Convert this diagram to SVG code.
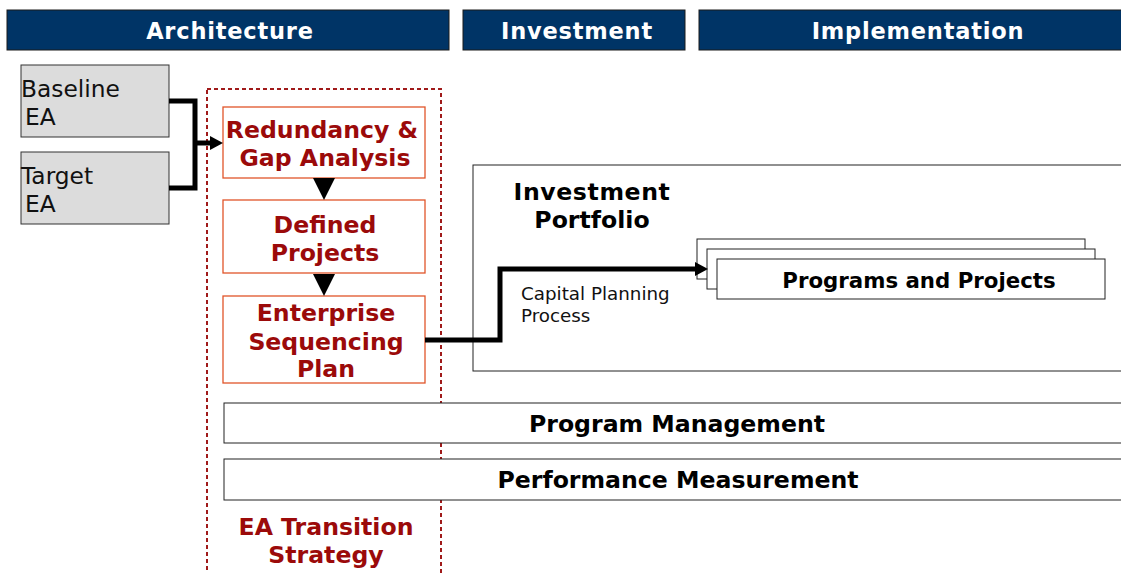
<svg xmlns="http://www.w3.org/2000/svg" width="1121" height="573" viewBox="0 0 1121 573">
  <defs>
    <style>
      .bar { fill: #003466; stroke: #1a1a1a; stroke-width: 1; }
      .bar-t { font-family: "DejaVu Sans", Verdana, sans-serif; font-weight: bold; font-size: 22.5px; fill: #ffffff; text-anchor: middle; letter-spacing: 0.8px; }
      .ea { fill: #dcdcdc; stroke: #333333; stroke-width: 1; }
      .ea-t { font-family: "DejaVu Sans", Verdana, sans-serif; font-size: 23.3px; fill: #111111; }
      .step { fill: #ffffff; stroke: #e0552a; stroke-width: 1.3; }
      .step-t { font-family: "DejaVu Sans", Verdana, sans-serif; font-weight: bold; font-size: 23.6px; fill: #9b0a0a; text-anchor: middle; }
      .frame { fill: none; stroke: #a01a1a; stroke-width: 2; stroke-dasharray: 4 3; }
      .box { fill: #ffffff; stroke: #222222; stroke-width: 1; }
      .lbl-b { font-family: "DejaVu Sans", Verdana, sans-serif; font-weight: bold; font-size: 23.6px; fill: #000000; }
      .lbl { font-family: "DejaVu Sans", Verdana, sans-serif; font-size: 18.3px; fill: #111111; }
      .wire { fill: none; stroke: #000000; stroke-width: 5; }
      .tip { fill: none; stroke: none; }
    </style>
    <marker id="headSm" markerUnits="userSpaceOnUse" markerWidth="14" markerHeight="16" refX="0" refY="8" orient="auto" viewBox="0 0 14 16">
      <path d="M0,1 L13,8 L0,15 z" fill="#000000"/>
    </marker>
    <marker id="headDown" markerUnits="userSpaceOnUse" markerWidth="22" markerHeight="24" refX="22" refY="12" orient="auto" viewBox="0 0 22 24">
      <path d="M0,1 L22,12 L0,23 z" fill="#000000"/>
    </marker>
  </defs>

  <rect width="1121" height="573" fill="#ffffff"/>

  <!-- phase header bars -->
  <g id="hdr-architecture">
    <rect class="bar" x="7" y="10" width="442" height="40"/>
    <text class="bar-t" x="230" y="39">Architecture</text>
  </g>
  <g id="hdr-investment">
    <rect class="bar" x="463" y="10" width="222" height="40"/>
    <text class="bar-t" x="577" y="39">Investment</text>
  </g>
  <g id="hdr-implementation">
    <rect class="bar" x="699" y="10" width="430" height="40"/>
    <text class="bar-t" x="918" y="39">Implementation</text>
  </g>

  <!-- EA inputs -->
  <g id="baseline-ea">
    <rect class="ea" x="21" y="65" width="148" height="72"/>
    <text class="ea-t" x="21" y="97">Baseline</text>
    <text class="ea-t" x="25" y="125">EA</text>
  </g>
  <g id="target-ea">
    <rect class="ea" x="21" y="152" width="148" height="72"/>
    <text class="ea-t" x="21" y="184">Target</text>
    <text class="ea-t" x="25" y="212">EA</text>
  </g>

  <!-- EA transition strategy frame -->
  <g id="ea-transition-strategy">
    <rect class="frame" x="207" y="89" width="234" height="500"/>
    <text class="step-t" x="326" y="535">EA Transition</text>
    <text class="step-t" x="326" y="563">Strategy</text>
  </g>
  <g id="gap-analysis">
    <rect class="step" x="223" y="107" width="202" height="71"/>
    <text class="step-t" x="322" y="138">Redundancy &amp;</text>
    <text class="step-t" x="325" y="166">Gap Analysis</text>
  </g>
  <g id="defined-projects">
    <rect class="step" x="223" y="200" width="202" height="73"/>
    <text class="step-t" x="325" y="233">Defined</text>
    <text class="step-t" x="325" y="261">Projects</text>
  </g>
  <g id="sequencing-plan">
    <rect class="step" x="223" y="296" width="202" height="87"/>
    <text class="step-t" x="326" y="321">Enterprise</text>
    <text class="step-t" x="326" y="350">Sequencing</text>
    <text class="step-t" x="326" y="377">Plan</text>
  </g>

  <!-- investment portfolio -->
  <g id="investment-portfolio">
    <rect class="box" x="473" y="165" width="660" height="206"/>
    <text class="lbl-b" x="592" y="200" text-anchor="middle" style="letter-spacing:0.6px">Investment</text>
    <text class="lbl-b" x="592" y="228" text-anchor="middle">Portfolio</text>
  </g>
  <g id="programs-projects">
    <rect class="box" x="697" y="239" width="388" height="40"/>
    <rect class="box" x="707" y="249" width="388" height="40"/>
    <rect class="box" x="717" y="259" width="388" height="40"/>
    <text class="lbl-b" x="919" y="288" text-anchor="middle" style="font-size:21.3px">Programs and Projects</text>
  </g>

  <!-- implementation bands -->
  <g id="program-management">
    <rect class="box" x="224" y="403" width="910" height="40"/>
    <text class="lbl-b" x="677" y="432" text-anchor="middle">Program Management</text>
  </g>
  <g id="performance-measurement">
    <rect class="box" x="224" y="459" width="910" height="41"/>
    <text class="lbl-b" x="678" y="488" text-anchor="middle">Performance Measurement</text>
  </g>

  <!-- connectors -->
  <g id="connectors">
    <path class="wire" d="M169,101 H195 V188 H169"/>
    <path class="wire" d="M195,143 H210" marker-end="url(#headSm)"/>
    <path class="tip" d="M324,178 V200" marker-end="url(#headDown)"/>
    <path class="tip" d="M324,273 V296" marker-end="url(#headDown)"/>
    <path class="wire" d="M425,340 H500 V269 H695" marker-end="url(#headSm)"/>
    <text class="lbl" x="521" y="300">Capital Planning</text>
    <text class="lbl" x="521" y="322">Process</text>
  </g>
</svg>
